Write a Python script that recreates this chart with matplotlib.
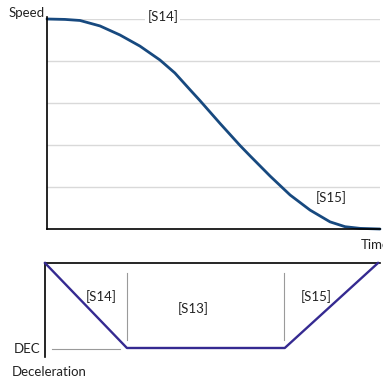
import numpy as np
import matplotlib
matplotlib.use("Agg")
import matplotlib.pyplot as plt

plt.rcParams['font.family'] = ['Lato', 'DejaVu Sans']

# speed curve (time 0..10, speed 0..1)
t_speed = [0.0, 0.54, 0.99, 1.59, 2.19, 2.79, 3.39, 3.84, 4.29, 4.59, 5.20,
           5.80, 6.10, 6.70, 7.30, 7.90, 8.50, 8.95, 9.40, 10.0]
speed = [1.0, 0.998, 0.993, 0.967, 0.924, 0.871, 0.805, 0.743, 0.664, 0.612, 0.502,
         0.397, 0.348, 0.252, 0.162, 0.090, 0.034, 0.011, 0.003, 0.0]

# deceleration profile
t_dec = [0.0, 2.46, 7.2, 10.0]
dec = [0.0, 1.0, 1.0, 0.0]
t_marks = [2.46, 7.18]

grid_levels = [0.2, 0.4, 0.6, 0.8, 1.0]

W = H = 383.0
fig = plt.figure(figsize=(3.83, 3.83), dpi=100)

def box(x0, y0, x1, y1):
    return [x0 / W, 1 - y1 / H, (x1 - x0) / W, (y1 - y0) / H]

txt = dict(fontsize=9.5, color='#222222')

# ---- speed plot
ax = fig.add_axes(box(47, 19, 380, 229))
ax.set_xlim(0, 10)
ax.set_ylim(0, 1)
for g in grid_levels:
    ax.axhline(g, color='#d9d9d9', lw=1.0, zorder=0)
ax.plot(t_speed, speed, color='#17497f', lw=2.0, solid_joinstyle='round',
        solid_capstyle='round', clip_on=False)
for s in ['top', 'right']:
    ax.spines[s].set_visible(False)
ax.spines['left'].set_bounds(0, 1.01)
for s in ['left', 'bottom']:
    ax.spines[s].set_color('black')
    ax.spines[s].set_linewidth(1.2)
ax.set_xticks([])
ax.set_yticks([])
ax.text(3.48, 1.01, '[S14]', ha='center', va='center', zorder=5,
        bbox=dict(facecolor='white', edgecolor='none', pad=1.5), **txt)
ax.text(8.53, 0.148, '[S15]', ha='center', va='center', **txt)

fig.text(45 / W, 1 - 13 / H, 'Speed', ha='right', va='center', **txt)
fig.text(361 / W, 1 - 245 / H, 'Time', ha='left', va='center', **txt)

# ---- deceleration plot
ax2 = fig.add_axes(box(45, 263, 380, 357))
ax2.set_xlim(0, 10.06)
ax2.set_ylim(1.106, 0)
ax2.plot(t_dec, dec, color='#352a91', lw=1.7, clip_on=False, zorder=4)
for tm in t_marks:
    ax2.plot([tm, tm], [0.118, 0.906], color='#9a9a9a', lw=0.8)
ax2.plot([0.21, 2.25], [1.01, 1.01], color='#9a9a9a', lw=0.8)
for s in ['bottom', 'right']:
    ax2.spines[s].set_visible(False)
for s in ['left', 'top']:
    ax2.spines[s].set_color('black')
    ax2.spines[s].set_linewidth(1.2)
ax2.set_xticks([])
ax2.set_yticks([])
ax2.text(1.68, 0.39, '[S14]', ha='center', va='center', **txt)
ax2.text(4.44, 0.54, '[S13]', ha='center', va='center', **txt)
ax2.text(8.14, 0.39, '[S15]', ha='center', va='center', **txt)

fig.text(40 / W, 1 - 349 / H, 'DEC', ha='right', va='center', **txt)
fig.text(12 / W, 1 - 372 / H, 'Deceleration', ha='left', va='center', **txt)

fig.savefig('out.png', dpi=100)
